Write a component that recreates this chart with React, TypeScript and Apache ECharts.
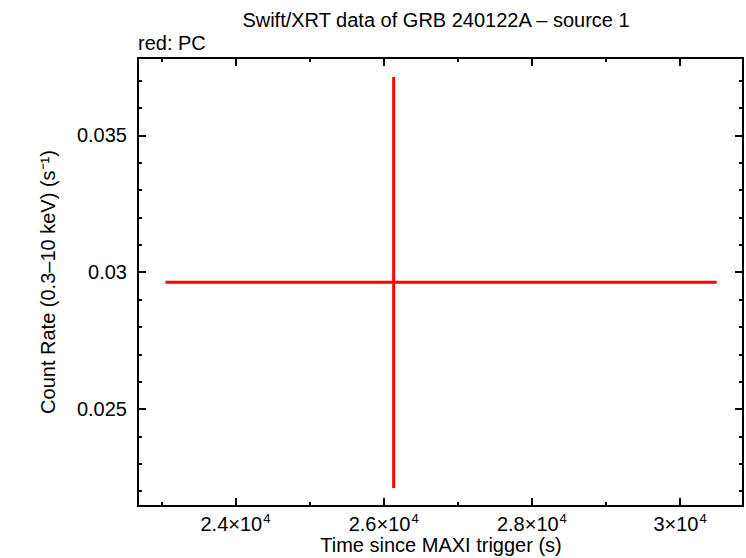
import React, { useEffect, useRef } from "react";
import * as echarts from "echarts";

// Data
const times = [26135];
const timeErrLow = [23056];
const timeErrHigh = [30495];
const rates = [0.029635];
const rateErrLow = [0.022114];
const rateErrHigh = [0.03713];

// Axis ticks
const xMajorTicks = [24000, 26000, 28000, 30000];
const xMinorTicks = [23000, 24000, 25000, 26000, 27000, 28000, 29000, 30000];
const yMajorTicks = [0.025, 0.03, 0.035];
const yMinorTicks = [0.022, 0.023, 0.024, 0.025, 0.026, 0.027, 0.028, 0.029, 0.03, 0.031, 0.032, 0.033, 0.034, 0.035, 0.036, 0.037];
const xTickMantissa: Record<number, string> = {
  24000: "2.4",
  26000: "2.6",
  28000: "2.8",
  30000: "3",
};
const xTickExponent = "4";
const yTickLabels: Record<number, string> = {
  0.025: "0.025",
  0.03: "0.03",
  0.035: "0.035",
};

const FONT = "'Liberation Sans', Arial, Helvetica, sans-serif";
const X_MIN = 22685;
const X_MAX = 30849;
const Y_MIN = 0.021456;
const Y_MAX = 0.037824;

export default function App() {
  const ref = useRef<HTMLDivElement>(null);
  useEffect(() => {
    if (!ref.current) return;
    const chart = echarts.init(ref.current, undefined, { renderer: "svg" });

    const baseX = (extra: any) => ({
      type: "value",
      min: X_MIN,
      max: X_MAX,
      splitLine: { show: false },
      axisLine: { show: true, onZero: false, lineStyle: { color: "#000", width: 2 } },
      ...extra,
    });
    const baseY = (extra: any) => ({
      type: "value",
      min: Y_MIN,
      max: Y_MAX,
      splitLine: { show: false },
      axisLine: { show: true, onZero: false, lineStyle: { color: "#000", width: 2 } },
      ...extra,
    });
    const majorTick = (vals: number[]) => ({
      show: true,
      inside: true,
      length: 8,
      customValues: vals,
      lineStyle: { color: "#000", width: 2 },
    });
    const minorTick = (vals: number[]) => ({
      show: true,
      inside: true,
      length: 4,
      customValues: vals,
      lineStyle: { color: "#000", width: 2 },
    });
    const noLabel = { show: false };

    const option: any = {
      animation: false,
      backgroundColor: "#fff",
      grid: { left: 138, right: 3, top: 58, bottom: 52, containLabel: false, outerBoundsMode: "none" },
      graphic: [
        {
          type: "text",
          x: 436,
          y: 20,
          style: {
            text: "Swift/XRT data of GRB 240122A – source 1",
            font: `20px ${FONT}`,
            fill: "#000",
            textAlign: "center",
            textVerticalAlign: "middle",
          },
        },
        {
          type: "text",
          x: 138,
          y: 43,
          style: {
            text: "red: PC",
            font: `20px ${FONT}`,
            fill: "#000",
            textAlign: "left",
            textVerticalAlign: "middle",
          },
        },
        {
          type: "text",
          x: 441,
          y: 545,
          style: {
            text: "Time since MAXI trigger (s)",
            font: `20px ${FONT}`,
            fill: "#000",
            textAlign: "center",
            textVerticalAlign: "middle",
          },
        },
      ],
      xAxis: [
        baseX({
          position: "bottom",
          axisTick: majorTick(xMajorTicks),
          axisLabel: {
            show: true,
            customValues: xMajorTicks,
            margin: 6,
            fontFamily: FONT,
            fontSize: 20,
            color: "#000",
            formatter: (v: number) => `{m|${xTickMantissa[v] ?? ""}×10}{e|${xTickExponent}}`,
            rich: {
              m: { fontFamily: FONT, fontSize: 20, color: "#000", verticalAlign: "bottom", lineHeight: 22 },
              e: { fontFamily: FONT, fontSize: 13, color: "#000", verticalAlign: "top", lineHeight: 22, padding: [0, 0, 0, 1] },
            },
          },
        }),
        baseX({ position: "bottom", axisTick: minorTick(xMinorTicks), axisLabel: noLabel }),
        baseX({ position: "top", axisTick: majorTick(xMajorTicks), axisLabel: noLabel }),
        baseX({ position: "top", axisTick: minorTick(xMinorTicks), axisLabel: noLabel }),
      ],
      yAxis: [
        baseY({
          position: "left",
          name: "Count Rate (0.3–10 keV) (s⁻¹)",
          nameLocation: "middle",
          nameGap: 80,
          nameTextStyle: { fontFamily: FONT, fontSize: 20, color: "#000" },
          axisTick: majorTick(yMajorTicks),
          axisLabel: {
            show: true,
            customValues: yMajorTicks,
            margin: 11,
            fontFamily: FONT,
            fontSize: 20,
            color: "#000",
            formatter: (v: number) => yTickLabels[v] ?? "",
          },
        }),
        baseY({ position: "left", axisTick: minorTick(yMinorTicks), axisLabel: noLabel }),
        baseY({ position: "right", axisTick: majorTick(yMajorTicks), axisLabel: noLabel }),
        baseY({ position: "right", axisTick: minorTick(yMinorTicks), axisLabel: noLabel }),
      ],
      series: [
        {
          type: "custom",
          xAxisIndex: 0,
          yAxisIndex: 0,
          data: times.map((t, i) => [t, rates[i], timeErrLow[i], timeErrHigh[i], rateErrLow[i], rateErrHigh[i]]),
          renderItem: (params: any, api: any) => {
            const x = api.value(0);
            const y = api.value(1);
            const x0 = api.coord([api.value(2), y]);
            const x1 = api.coord([api.value(3), y]);
            const y0 = api.coord([x, api.value(4)]);
            const y1 = api.coord([x, api.value(5)]);
            const style = { stroke: "#ff0000", lineWidth: 3 };
            return {
              type: "group",
              children: [
                { type: "line", shape: { x1: x0[0], y1: x0[1], x2: x1[0], y2: x1[1] }, style },
                { type: "line", shape: { x1: y0[0], y1: y0[1], x2: y1[0], y2: y1[1] }, style },
              ],
            };
          },
        },
      ],
    };
    chart.setOption(option);
    return () => chart.dispose();
  }, []);

  return (
    <div
      ref={ref}
      style={{ position: "fixed", left: 0, top: 0, width: 746, height: 558, background: "#fff" }}
    />
  );
}
